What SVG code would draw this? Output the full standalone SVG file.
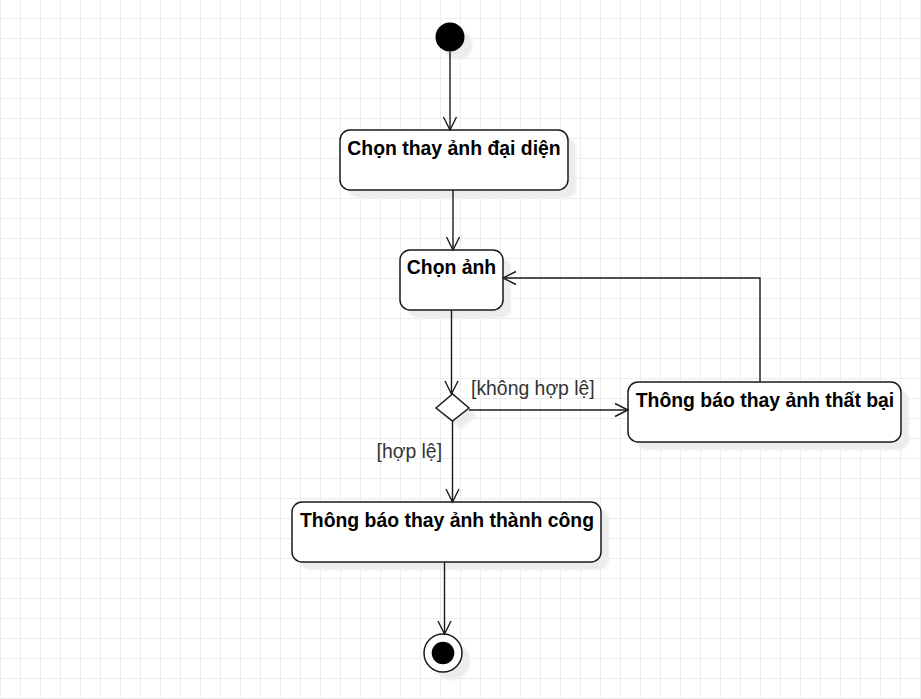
<svg xmlns="http://www.w3.org/2000/svg" width="921" height="699" viewBox="0 0 921 699">
  <defs>
    <pattern id="grid" x="0" y="-2" width="20" height="20" patternUnits="userSpaceOnUse">
      <path d="M0.5 0 V20 M0 0.5 H20" fill="none" stroke="#ededed" stroke-width="1"/>
    </pattern>
    <filter id="blur" x="-20%" y="-20%" width="140%" height="140%">
      <feGaussianBlur stdDeviation="1.2"/>
    </filter>
    <marker id="open" viewBox="0 0 16 16" refX="14.5" refY="8" markerWidth="16" markerHeight="16" markerUnits="userSpaceOnUse" orient="auto">
      <path d="M1.5 1.5 L14.5 8 L1.5 14.5" fill="none" stroke="#1a1a1a" stroke-width="1.4"/>
    </marker>
  </defs>
  <style>
    .shadow { fill: #ececec; filter: url(#blur); }
    .box { fill: #ffffff; stroke: #1a1a1a; stroke-width: 1.5; }
    .title { font-family: "Liberation Sans", Arial, sans-serif; font-weight: bold; font-size: 19.4px; fill: #000000; text-anchor: middle; }
    .guard { font-family: "Liberation Sans", Arial, sans-serif; font-size: 19.4px; fill: #333333; }
    .edge { fill: none; stroke: #1a1a1a; stroke-width: 1.4; marker-end: url(#open); }
  </style>
  <rect width="921" height="699" fill="#ffffff"/>
  <rect width="921" height="699" fill="url(#grid)"/>

  <g id="start">
    <circle class="shadow" cx="458" cy="45" r="14.5"/>
    <circle cx="450" cy="37" r="14.5" fill="#000000"/>
  </g>

  <g id="chon-thay-anh-dai-dien">
    <rect class="shadow" x="348" y="138" width="228" height="60" rx="10"/>
    <rect class="box" x="340" y="130" width="228" height="60" rx="10"/>
    <text class="title" x="454" y="155">Chọn thay ảnh đại diện</text>
  </g>

  <g id="chon-anh">
    <rect class="shadow" x="408" y="258" width="103" height="60" rx="10"/>
    <rect class="box" x="400" y="250" width="103" height="60" rx="10"/>
    <text class="title" x="451.5" y="274">Chọn ảnh</text>
  </g>

  <g id="decision">
    <path class="shadow" d="M444 416 L460.5 402 L477 416 L460.5 429 Z"/>
    <path d="M436 408 L452.5 394 L469 408 L452.5 421 Z" fill="#ffffff" stroke="#1a1a1a" stroke-width="1.5"/>
  </g>

  <g id="that-bai">
    <rect class="shadow" x="636" y="390" width="273" height="60" rx="10"/>
    <rect class="box" x="628" y="382" width="273" height="60" rx="10"/>
    <text class="title" x="765" y="407">Thông báo thay ảnh thất bại</text>
  </g>

  <g id="thanh-cong">
    <rect class="shadow" x="300" y="510" width="309" height="60" rx="10"/>
    <rect class="box" x="292" y="502" width="309" height="60" rx="10"/>
    <text class="title" x="447" y="527">Thông báo thay ảnh thành công</text>
  </g>

  <g id="end">
    <circle class="shadow" cx="451" cy="661" r="19"/>
    <circle cx="443" cy="653" r="19" fill="#ffffff" stroke="#1a1a1a" stroke-width="1.5"/>
    <circle cx="443" cy="653" r="11.3" fill="#000000"/>
  </g>

  <g id="connectors">
    <path class="edge" d="M450 51.5 V130"/>
    <path class="edge" d="M453 190 V250"/>
    <path class="edge" d="M451.5 310 V394"/>
    <path class="edge" d="M469 410 H628"/>
    <path class="edge" d="M760 382 V278 H503"/>
    <path class="edge" d="M452.5 421 V502"/>
    <path class="edge" d="M444.5 562 V634"/>
    <text class="guard" x="471" y="395">[không hợp lệ]</text>
    <text class="guard" x="376.5" y="458">[hợp lệ]</text>
  </g>
</svg>
